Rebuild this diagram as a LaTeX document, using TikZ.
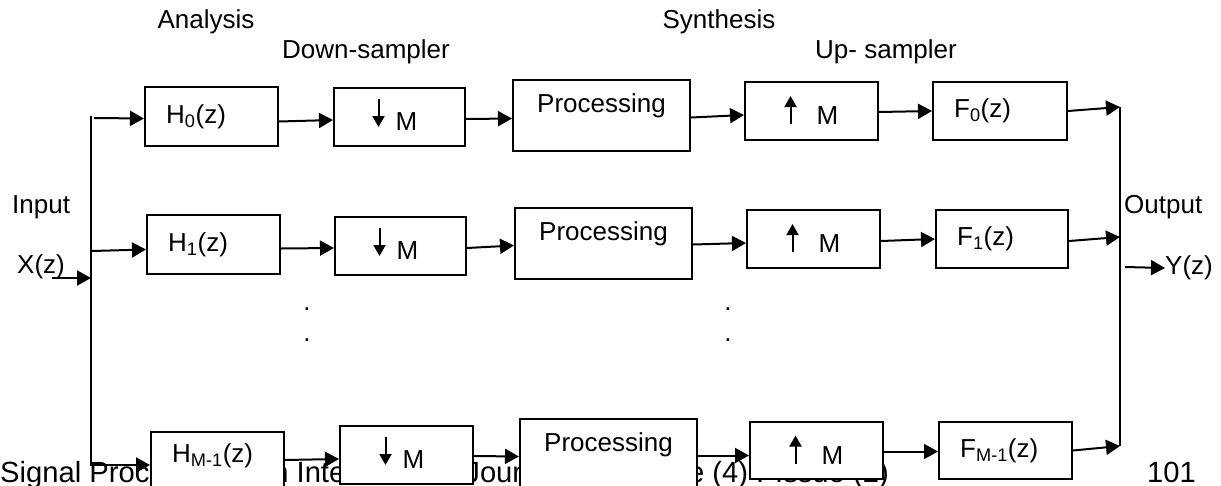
\documentclass[tikz,border=0pt]{standalone}
\usepackage{fontspec}
\setmainfont{Liberation Sans}
\usetikzlibrary{arrows.meta}

\begin{document}
\begin{tikzpicture}[x=1pt,y=-1pt,
  txt/.style={font=\fontsize{26}{30}\selectfont, inner sep=0pt},
  foot/.style={font=\fontsize{29.2}{32}\selectfont, inner sep=0pt},
  blk/.style={draw, line width=2pt, fill=white, inner sep=0pt, anchor=north west,
              minimum width=133pt, minimum height=59pt},
  pblk/.style={blk, minimum width=177pt, minimum height=71pt},
  conn/.style={line width=2pt, -{Triangle[length=14pt,width=15pt]}},
  wire/.style={line width=2pt},
  sarrow/.style={line width=2pt, -{Triangle[length=11pt,width=12pt]}}
]
\useasboundingbox (0,0) rectangle (1221,485);

% running footer of the page, partly hidden behind the bottom row of blocks
\node[foot, anchor=base west] (footA) at (0,482)
  {Signal Processing: An International Journal (SPIJ),};
\node[foot, anchor=base east] (footB) at (889,482) {Volume (4) : Issue (2)};
\node[foot, anchor=base east] (pageno) at (1196,482) {101};

% section headings
\node[txt] (analysis) at (206,22) {Analysis};
\node[txt] (down) at (366,52) {Down-sampler};
\node[txt] (synth) at (719,22) {Synthesis};
\node[txt] (up) at (886,52) {Up- sampler};

% row 0
\node[blk] (h0) at (144,86) {};
\node[blk, minimum width=131pt, minimum height=58pt] (d0) at (333,87) {};
\node[pblk] (p0) at (512,79) {};
\node[blk, minimum height=58pt] (u0) at (744,81) {};
\node[blk, minimum width=134pt, minimum height=58pt] (f0) at (932,81) {};

% row 1
\node[blk] (h1) at (146,214) {};
\node[blk, minimum width=131pt, minimum height=58pt] (d1) at (334,216) {};
\node[pblk] (p1) at (514,207) {};
\node[blk, minimum height=58pt] (u1) at (746,209) {};
\node[blk, minimum width=132pt, minimum height=58pt] (f1) at (935,209) {};

% row M-1
\node[blk, minimum height=64pt] (h2) at (150,431) {};
\node[blk, minimum height=58pt] (d2) at (339,425) {};
\node[pblk] (p2) at (519,418) {};
\node[blk, minimum height=57pt] (u2) at (749,421) {};
\node[blk, minimum height=57pt] (f2) at (938,421) {};

% block texts
\foreach \r/\s/\dy in {0/0/0,1/1/0,2/{M-1}/8}{
  \node[txt, anchor=west] (h\r t) at ([xshift=22pt, yshift=\dy pt]h\r.west) {H\textsubscript{\s}(z)};
  \node[txt, anchor=west] (f\r t) at ([xshift=22pt]f\r.west) {F\textsubscript{\s}(z)};
  \node[txt] (p\r t) at ([yshift=10pt]p\r.center) {Processing};
  \node[txt] (d\r m) at ([xshift=7pt, yshift=-5pt]d\r.center) {M};
  \node[txt] (u\r m) at ([xshift=16pt, yshift=-5pt]u\r.center) {M};
  \draw[sarrow] ([xshift=-21pt, yshift=18pt]d\r.center) -- ([xshift=-21pt, yshift=-10pt]d\r.center);
  \draw[sarrow] ([xshift=-21pt, yshift=-13pt]u\r.center) -- ([xshift=-21pt, yshift=15pt]u\r.center);
}

% input side
\node[txt, anchor=west] (input) at (12,207) {Input};
\node[txt, anchor=west] (xz) at (17,267) {X(z)};
\coordinate (inTop) at (91,116);
\coordinate (inBot) at (91,466);
\coordinate (inJoin) at (91,278);
\coordinate (xStart) at (52,278);
\draw[wire] (inTop) -- (inBot);
\draw[conn] (xStart) -- (inJoin);

\coordinate (tap0) at (94,118);
\coordinate (tap1) at (92,251);
\coordinate (tap2) at (91,465);
\draw[conn] (tap0) -- ([yshift=-2pt]h0.west);
\draw[conn] (tap1) -- ([yshift=-5pt]h1.west);
\draw[conn] (tap2) -- ([yshift=-1pt]h2.west);

% output side
\coordinate (outTop) at (1120,107);
\coordinate (outBot) at (1120,446);
\coordinate (outJoin) at (1125,267);
\draw[wire] (outTop) -- (outBot);
\node[txt, anchor=west] (output) at (1124,207) {Output};
\node[txt, anchor=west] (yz) at (1165,268) {Y(z)};
\draw[conn] (outJoin) -- (yz.west);
\coordinate (out0) at (1120,107);
\coordinate (out1) at (1120,237);
\coordinate (out2) at (1120,446);

% row 0 chain
\draw[conn] ([yshift=-5pt]h0.east) -- ([yshift=-3pt]d0.west);
\draw[conn] ([yshift=-2pt]d0.east) -- ([yshift=-3pt]p0.west);
\draw[conn] ([yshift=-2pt]p0.east) -- ([yshift=-4pt]u0.west);
\draw[conn] ([yshift=-1pt]u0.east) -- (f0.west);
\draw[conn] (f0.east) -- (out0);

% row 1 chain
\draw[conn] ([yshift=-4pt]h1.east) -- ([yshift=-2pt]d1.west);
\draw[conn] ([yshift=-2pt]d1.east) -- ([yshift=-2pt]p1.west);
\draw[conn] ([yshift=-1pt]p1.east) -- ([yshift=-4pt]u1.west);
\draw[conn] ([yshift=-2pt]u1.east) -- (f1.west);
\draw[conn] ([yshift=-2pt]f1.east) -- (out1);

% row M-1 chain
\draw[conn] ([yshift=4pt]h2.east) -- ([yshift=-4pt]d2.west);
\draw[conn] ([yshift=-1pt]d2.east) -- ([yshift=-2pt]p2.west);
\draw[conn] ([yshift=-1pt]p2.east) -- ([yshift=-5pt]u2.west);
\draw[conn] ([yshift=-1pt]u2.east) -- ([yshift=-1pt]f2.west);
\draw[conn] ([yshift=0pt]f2.east) -- (out2);

% ellipsis dots between row 1 and row M-1
\node[txt] (dotA1) at (307,309) {.};
\node[txt] (dotA2) at (307,340) {.};
\node[txt] (dotB1) at (728,309) {.};
\node[txt] (dotB2) at (728,340) {.};
\end{tikzpicture}
\end{document}
